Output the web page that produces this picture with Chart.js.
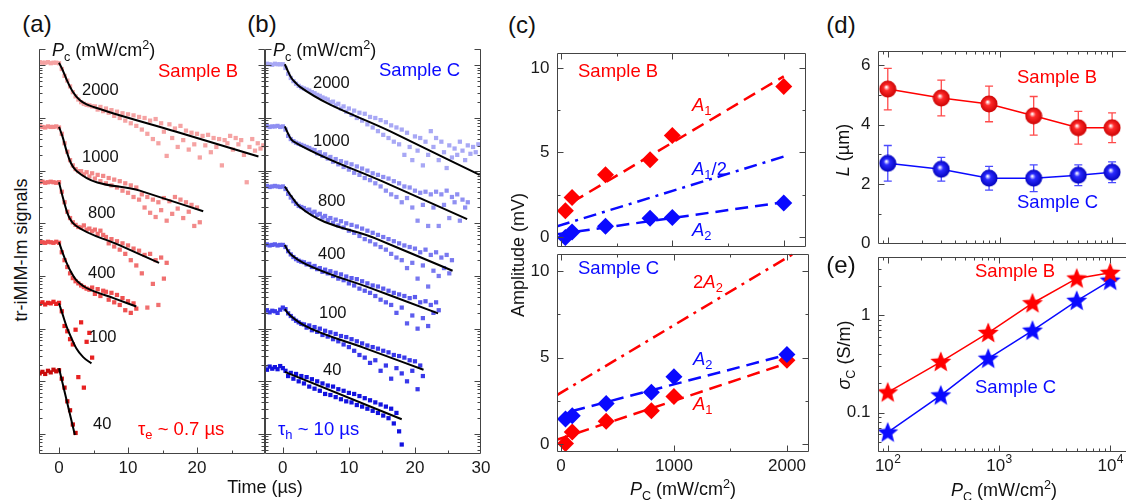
<!DOCTYPE html>
<html>
<head>
<meta charset="utf-8">
<script src="https://cdn.jsdelivr.net/npm/chart.js@4.4.0/dist/chart.umd.min.js"></script>
<style>
  body { margin: 0; background: #fff; overflow: hidden; }
  #fig { position: relative; width: 1126px; height: 500px; overflow: hidden; font-family: "Liberation Sans", Arial, sans-serif; color: #111; }
  #fig canvas { position: absolute; }
  .lbl { position: absolute; white-space: nowrap; line-height: 1; }
  .lbl sub, .lbl sup { font-size: 70%; line-height: 0; }
</style>
</head>
<body>
<div id="fig"></div>
<script>
// ---- panels (a),(b): time traces, values are log10(signal)
const timeGrid = [-2.8,-2.4,-2,-1.6,-1.2,-0.8,-0.4,0,0.4,0.8,1.2,1.6,2,2.4,2.8,3.2,3.6,4,4.4,4.8,5.2,5.6,6,6.4,6.8,7.2,7.6,8,8.4,8.8,9.2,9.6,10,10.4,10.8,11.2,11.6,12,12.4,12.8,13.2,13.6,14,14.4,14.8,15.2,15.6,16,16.4,16.8,17.2,17.6,18,18.4,18.8,19.2,19.6,20,20.4,20.8,21.2,21.6,22,22.4,22.8,23.2,23.6,24,24.4,24.8,25.2,25.6,26,26.4,26.8,27.2,27.6,28,28.4,28.8,29.2,29.6];

const traceB2000 = [7.06,7.05,7.05,7.06,7.04,7.05,7.05,7.04,6.93,6.80,6.71,6.60,6.49,6.41,6.35,6.30,6.27,6.25,6.24,6.22,6.22,6.16,6.21,6.13,6.18,6.10,6.15,6.04,6.12,6.00,6.09,5.95,6.07,5.90,6.05,5.85,6.02,5.78,6.00,5.70,5.95,5.60,5.98,5.52,5.90,5.74,5.28,5.88,5.62,5.80,5.45,5.85,5.58,5.76,5.40,5.72,5.50,5.70,5.25,5.66,5.48,5.68,5.35,5.62,5.45,5.60,5.10,5.58,5.52,5.66,5.40,5.62,5.50,5.58,5.30,4.78,5.45,5.60,5.38,5.52,5.42,5.48];
const traceB1000 = [5.84,5.83,5.82,5.84,5.83,5.83,5.84,5.82,5.70,5.52,5.36,5.20,5.10,5.03,4.99,4.99,4.93,4.97,4.89,4.95,4.85,4.92,4.80,4.90,4.76,4.86,4.72,4.83,4.68,4.80,4.62,4.76,4.58,4.72,4.50,4.68,4.45,4.55,4.30,4.50,4.20,4.45,4.12,4.40,4.25,4.48,4.05,4.42,4.18,4.50,4.28,4.45,4.10,4.40,4.22,4.35,3.95,4.30,4.02];
const traceB800 = [4.78,4.79,4.77,4.78,4.79,4.78,4.77,4.78,4.60,4.40,4.22,4.10,4.02,3.97,3.93,3.92,3.96,3.88,3.90,3.85,3.88,3.80,3.86,3.78,3.74,3.62,3.70,3.56,3.66,3.50,3.62,3.42,3.58,3.30,3.52,3.20,3.48,3.05,3.40,2.40,3.42,2.85,3.30,2.45,3.35,2.95,3.25];
const traceB400 = [3.65,3.64,3.63,3.65,3.64,3.63,3.65,3.63,3.45,3.30,3.17,3.05,2.96,2.90,2.86,2.82,2.79,2.76,2.74,2.78,2.66,2.75,2.62,2.72,2.70,2.55,2.68,2.50,2.64,2.45,2.58,2.35,2.52,2.30,2.48,2.38];
const traceB100 = [2.47,2.50,2.46,2.49,2.48,2.51,2.47,2.49,2.33,2.05,1.95,1.80,1.70,1.98,1.08,2.12,0.88,1.75,1.92,1.45];
const traceB40 = [1.15,1.18,1.14,1.20,1.17,1.22,1.19,1.21,1.05,0.88,0.62,0.45,0.18,0.02];

const traceC2000 = [7.02,7.03,7.02,7.01,7.03,7.02,7.02,7.02,6.95,6.84,6.76,6.70,6.65,6.61,6.58,6.56,6.54,6.52,6.49,6.47,6.44,6.42,6.39,6.37,6.35,6.30,6.31,6.24,6.27,6.18,6.22,6.12,6.18,6.06,6.14,6.00,6.10,5.95,6.08,5.88,6.02,5.82,6.00,5.75,5.96,5.68,5.92,5.62,5.86,5.55,5.82,5.50,5.78,5.30,5.72,5.45,5.20,5.65,5.38,5.62,5.10,5.55,5.30,5.75,5.45,5.62,5.20,5.55,5.35,5.05,5.48,5.25,5.42,5.30,5.55,5.38,5.20,5.48,5.32,5.45,5.35,5.50];
const traceC1000 = [5.84,5.85,5.83,5.84,5.84,5.85,5.83,5.84,5.78,5.66,5.60,5.56,5.53,5.51,5.49,5.47,5.45,5.43,5.40,5.39,5.33,5.35,5.28,5.31,5.23,5.26,5.17,5.22,5.12,5.18,5.07,5.15,5.02,5.12,4.96,5.08,4.92,5.04,4.86,5.00,4.82,4.95,4.76,4.92,4.70,4.88,4.62,4.85,4.55,4.80,4.50,4.76,4.40,4.70,4.48,4.68,4.30,4.62,4.05,4.58,4.35,4.60,3.95,4.55,4.30,4.60,3.95,4.55,4.35,4.62,4.10,4.50,4.40,4.55,4.05,4.45,4.30,4.40];
const traceC800 = [4.70,4.71,4.69,4.70,4.71,4.70,4.69,4.70,4.65,4.56,4.49,4.42,4.37,4.33,4.31,4.29,4.25,4.26,4.20,4.22,4.16,4.18,4.11,4.14,4.06,4.10,4.01,4.07,3.96,4.04,3.92,4.00,3.86,3.97,3.82,3.94,3.76,3.90,3.70,3.86,3.66,3.82,3.60,3.78,3.55,3.74,3.50,3.70,3.42,3.66,3.35,3.62,3.30,3.58,3.15,3.55,3.25,3.52,2.95,3.45,3.20,3.50,2.80,3.40,3.10,3.45,3.00,3.35,3.15,3.40,3.05,3.30];
const traceC400 = [3.59,3.60,3.58,3.59,3.60,3.58,3.59,3.59,3.55,3.47,3.41,3.36,3.32,3.29,3.27,3.26,3.22,3.23,3.17,3.19,3.13,3.15,3.08,3.12,3.05,3.09,3.00,3.06,2.95,3.03,2.92,2.99,2.86,2.96,2.82,2.94,2.76,2.90,2.72,2.86,2.68,2.82,2.62,2.80,2.55,2.76,2.50,2.72,2.45,2.68,2.30,2.65,2.40,2.62,2.10,2.58,2.25,2.60,2.00,2.50,2.20,2.52,2.05,2.45,2.30,2.50,2.35];
const traceC100 = [2.32,2.35,2.31,2.34,2.33,2.30,2.36,2.40,2.37,2.29,2.24,2.19,2.15,2.12,2.09,2.08,2.02,2.06,1.97,2.03,1.94,2.00,1.88,1.96,1.85,1.93,1.80,1.90,1.76,1.86,1.70,1.84,1.65,1.80,1.58,1.76,1.50,1.72,1.45,1.68,1.35,1.65,1.40,1.62,1.20,1.58,1.30,1.55,1.05,1.50,1.25,1.48,1.15,1.45,1.00,1.40,1.20,1.38,0.85,1.30,1.10];
const traceC40 = [1.26,1.22,1.28,1.24,1.27,1.23,1.29,1.25,1.20,1.10,1.16,1.05,1.14,1.00,1.10,0.96,1.08,0.90,1.04,0.86,1.00,0.82,0.96,0.76,0.92,0.74,0.90,0.70,0.85,0.66,0.82,0.62,0.78,0.60,0.76,0.55,0.72,0.52,0.68,0.48,0.64,0.44,0.60,0.40,0.56,0.35,0.52,0.30,0.48,0.20,0.40,0.05,-0.20];

// black fit curves, [time, log10 signal]
const fitB2000 = [[0,7.05],[0.5,6.92],[1.1,6.73],[2,6.50],[3,6.34],[4,6.26],[5,6.21],[17,5.74],[28.9,5.27]];
const fitB1000 = [[0,5.83],[0.5,5.65],[1.1,5.37],[1.7,5.15],[2.5,5.00],[11.7,4.62],[20.9,4.23]];
const fitB800 = [[0,4.78],[0.5,4.52],[1.2,4.20],[1.8,4.04],[2.5,3.95],[8.5,3.60],[14.5,3.25]];
const fitB400 = [[0,3.64],[0.5,3.45],[1.1,3.25],[1.8,3.06],[2.5,2.92],[3.5,2.81],[4.5,2.74],[7.9,2.58],[11.2,2.42]];
const fitB100 = [[0,2.48],[0.5,2.28],[1.1,2.04],[1.8,1.82],[2.5,1.63],[3.5,1.46],[4.7,1.34]];
const fitB40 = [[0,1.25],[2.3,-0.02]];
const fitC2000 = [[0.3,7.02],[0.8,6.88],[1.3,6.76],[2,6.66],[2.6,6.59],[16.2,5.75],[29.8,4.92]];
const fitC1000 = [[0.3,5.84],[0.8,5.70],[1.3,5.59],[2.1,5.52],[15,4.80],[27.9,4.08]];
const fitC800 = [[0.3,4.70],[0.8,4.60],[1.3,4.51],[2.5,4.32],[14.1,3.71],[25.7,3.10]];
const fitC400 = [[0.3,3.59],[0.8,3.47],[1.5,3.38],[3.1,3.25],[13.3,2.77],[23.5,2.29]];
const fitC100 = [[0.3,2.37],[0.8,2.29],[1.3,2.23],[3.1,2.07],[12.2,1.64],[21.3,1.22]];
const fitC40 = [[0.3,1.18],[18,0.28]];

const colorsB = ["#f5a3a3", "#f28a8a", "#f07070", "#ee5050", "#e82222", "#c80a0a"];
const colorsC = ["#a8a8f5", "#9090f2", "#7878f0", "#5c5cee", "#3838ea", "#1212e0"];

// ---- panel (c): amplitudes vs P_C
const pcAmp = [40, 100, 400, 800, 1000, 2000];
const ampB_A1 = [1.54, 2.33, 3.67, 4.57, 6.0, 8.9];
const ampB_A2 = [-0.04, 0.29, 0.63, 1.1, 1.14, 2.0];
const ampC_A2 = [1.46, 1.65, 2.35, 3.0, 3.9, 5.19];
const ampC_A1 = [0.04, 0.7, 1.32, 1.93, 2.75, 4.85];
const lineB_A1 = [[100, 2.05], [2000, 9.5]];
const lineB_A1half = [[-35, 0.62], [2000, 4.75]];
const lineB_A2 = [[-35, 0.15], [2000, 2.05]];
const lineC_2A2 = [[-35, 2.84], [2195, 11.54]];
const lineC_A2 = [[100, 1.92], [2000, 5.17]];
const lineC_A1 = [[-30, 0.27], [2000, 4.68]];

// ---- panels (d),(e)
const pcLog = [100, 300, 800, 2000, 5000, 10000];
const lenB = [5.2, 4.9, 4.7, 4.3, 3.9, 3.9];
const lenBerr = [0.7, 0.6, 0.6, 0.65, 0.55, 0.5];
const lenC = [2.7, 2.5, 2.2, 2.2, 2.3, 2.4];
const lenCerr = [0.6, 0.4, 0.4, 0.45, 0.35, 0.35];
const sigB = [0.161, 0.332, 0.659, 1.33, 2.39, 2.73];
const sigC = [0.0624, 0.150, 0.358, 0.695, 1.41, 2.27];

// tick marks / labels
const timeMajor = [0, 10, 20, 30];
const timeMinor = [5, 15, 25];
const decadeTicks = [1e0, 1e1, 1e2, 1e3, 1e4, 1e5, 1e6, 1e7];
const ampTicks = [0, 5, 10];
const ampMinor = [2.5, 7.5];
const pcTicks = [0, 1000, 2000];
const pcMinor = [500, 1500];
const lenTicks = [0, 2, 4, 6];
const lenMinor = [1, 3, 5];
const pcLogTicks = [100, 1000, 10000];
const pcLogLabels = ["10^2", "10^3", "10^4"];
const sigTicks = [0.1, 1];
const sigLabels = ["0.1", "1"];

const fig = document.getElementById("fig");
const RED = "#ff0000", BLUE = "#0a0aff";

function logMinor(lo, hi) {
  const out = [];
  for (let e = Math.floor(Math.log10(lo)); e <= Math.ceil(Math.log10(hi)); e++) {
    for (let k = 2; k <= 9; k++) {
      const v = k * Math.pow(10, e);
      if (v > lo && v < hi) out.push(v);
    }
  }
  return out;
}

function tickText(ctx, txt, x, y, align) {
  const [base, sup] = txt.split("^");
  ctx.font = '17px "Liberation Sans", Arial';
  const wb = ctx.measureText(base).width;
  let ws = 0;
  if (sup) {
    ctx.font = '12px "Liberation Sans", Arial';
    ws = ctx.measureText(sup).width;
  }
  const x0 = align === "center" ? x - (wb + ws) / 2 : x - wb - ws;
  ctx.textAlign = "left";
  ctx.textBaseline = "middle";
  ctx.font = '17px "Liberation Sans", Arial';
  ctx.fillText(base, x0, y);
  if (sup) {
    ctx.font = '12px "Liberation Sans", Arial';
    ctx.fillText(sup, x0 + wb + 0.5, y - 7);
  }
}

function makeFrame(o) {
  return {
    id: "frame",
    afterDraw(chart) {
      const ctx = chart.ctx, a = chart.chartArea;
      const sx = chart.scales.x, sy = chart.scales.y;
      const L = Math.round(a.left) + 0.5, R = Math.round(a.right) - 0.5;
      const T = Math.round(a.top) + 0.5, B = Math.round(a.bottom) - 0.5;
      const openTop = o.openTop;
      ctx.save();
      ctx.strokeStyle = "#444";
      ctx.lineWidth = 1;
      ctx.beginPath();
      if (openTop) {
        ctx.moveTo(L, T); ctx.lineTo(L, B); ctx.lineTo(R, B); ctx.lineTo(R, T);
        ctx.moveTo(L, T); ctx.lineTo(L + 6, T);
        ctx.moveTo(R, T); ctx.lineTo(R - 6, T);
      } else {
        ctx.rect(L, T, R - L, B - T);
      }
      const xt = (vals, len) => (vals || []).forEach(v => {
        const p = Math.round(sx.getPixelForValue(v)) + 0.5;
        if (p < L || p > R) return;
        ctx.moveTo(p, B); ctx.lineTo(p, B - len);
        if (!openTop) { ctx.moveTo(p, T); ctx.lineTo(p, T + len); }
      });
      const yt = (vals, len) => (vals || []).forEach(v => {
        const p = Math.round(sy.getPixelForValue(v)) + 0.5;
        if (p < T || p > B) return;
        ctx.moveTo(L, p); ctx.lineTo(L + len, p);
        ctx.moveTo(R, p); ctx.lineTo(R - len, p);
      });
      xt(o.xMajor, 6); xt(o.xMinor, 3);
      yt(o.yMajor, 6); yt(o.yMinor, 3);
      ctx.stroke();
      ctx.fillStyle = "#1a1a1a";
      (o.xLabels || []).forEach((s, i) => tickText(ctx, s, sx.getPixelForValue(o.xMajor[i]), B + 15, "center"));
      (o.yLabels || []).forEach((s, i) => tickText(ctx, s, L - 8, sy.getPixelForValue(o.yMajor[i]), "right"));
      ctx.restore();
    }
  };
}

const errorBars = {
  id: "errbars",
  beforeDatasetsDraw(chart) {
    const ctx = chart.ctx, sy = chart.scales.y;
    chart.data.datasets.forEach((ds, i) => {
      if (!ds.errors) return;
      const meta = chart.getDatasetMeta(i);
      ctx.save();
      ctx.strokeStyle = ds.errorColor;
      ctx.lineWidth = 1.3;
      meta.data.forEach((pt, j) => {
        const v = ds.data[j].y, e = ds.errors[j];
        const y1 = sy.getPixelForValue(v + e), y2 = sy.getPixelForValue(v - e);
        ctx.beginPath();
        ctx.moveTo(pt.x, y1); ctx.lineTo(pt.x, y2);
        ctx.moveTo(pt.x - 4, y1); ctx.lineTo(pt.x + 4, y1);
        ctx.moveTo(pt.x - 4, y2); ctx.lineTo(pt.x + 4, y2);
        ctx.stroke();
      });
      ctx.restore();
    });
  }
};

function addPanel(box, pad, xScale, yScale, datasets, frame) {
  const cv = document.createElement("canvas");
  const w = box[2] - box[0] + pad[0] + pad[2];
  const h = box[3] - box[1] + pad[1] + pad[3];
  cv.width = w;
  cv.height = h;
  cv.style.left = (box[0] - pad[0]) + "px";
  cv.style.top = (box[1] - pad[1]) + "px";
  fig.appendChild(cv);
  return new Chart(cv, {
    type: "scatter",
    data: { datasets },
    options: {
      responsive: false,
      animation: false,
      devicePixelRatio: 1,
      events: [],
      layout: { padding: { left: pad[0], top: pad[1], right: pad[2], bottom: pad[3] } },
      scales: {
        x: Object.assign({ display: false, bounds: "data" }, xScale),
        y: Object.assign({ display: false, bounds: "data" }, yScale)
      },
      plugins: { legend: { display: false }, tooltip: { enabled: false } }
    },
    plugins: [makeFrame(frame), errorBars]
  });
}

function traceSet(vals, color) {
  return {
    data: vals.map((v, i) => ({ x: timeGrid[i], y: Math.pow(10, v) })),
    pointStyle: "rect", pointRadius: 3, borderWidth: 0,
    backgroundColor: color, showLine: false, order: 1
  };
}
function fitSet(pts) {
  return {
    data: pts.map(p => ({ x: p[0], y: Math.pow(10, p[1]) })),
    showLine: true, pointRadius: 0, borderColor: "#000", borderWidth: 2,
    cubicInterpolationMode: "monotone", order: 0
  };
}
function lineSet(pts, color, dash) {
  return {
    data: pts.map(p => ({ x: p[0], y: p[1] })),
    showLine: true, pointRadius: 0, borderColor: color, borderWidth: 2.5,
    borderDash: dash, order: 1
  };
}
function diamondSet(ys, color) {
  return {
    data: ys.map((y, i) => ({ x: pcAmp[i], y })),
    pointStyle: "rectRot", pointRadius: 8.5, borderWidth: 0,
    backgroundColor: color, order: 0
  };
}

function sphereImg(light, mid, dark) {
  const c = document.createElement("canvas");
  c.width = c.height = 18;
  const g = c.getContext("2d");
  const gr = g.createRadialGradient(7.5, 7, 0.5, 9, 9, 9);
  gr.addColorStop(0, light);
  gr.addColorStop(0.3, mid);
  gr.addColorStop(1, dark);
  g.fillStyle = gr;
  g.beginPath();
  g.arc(9, 9, 8.5, 0, 2 * Math.PI);
  g.fill();
  return c;
}
function starImg(color) {
  const c = document.createElement("canvas");
  c.width = c.height = 24;
  const g = c.getContext("2d");
  g.beginPath();
  for (let k = 0; k < 10; k++) {
    const r = k % 2 ? 4.8 : 11;
    const ang = -Math.PI / 2 + k * Math.PI / 5;
    g.lineTo(12 + r * Math.cos(ang), 12.5 + r * Math.sin(ang));
  }
  g.closePath();
  g.fillStyle = color;
  g.fill();
  return c;
}

// (a) sample B, (b) sample C
const tracesB = [traceB2000, traceB1000, traceB800, traceB400, traceB100, traceB40];
const fitsB = [fitB2000, fitB1000, fitB800, fitB400, fitB100, fitB40];
const tracesC = [traceC2000, traceC1000, traceC800, traceC400, traceC100, traceC40];
const fitsC = [fitC2000, fitC1000, fitC800, fitC400, fitC100, fitC40];
const sigYmin = Math.pow(10, -0.38), sigYmax = Math.pow(10, 7.31);
const traceYMinor = logMinor(sigYmin, sigYmax);

addPanel([39, 49, 265, 454], [5, 5, 5, 30],
  { type: "linear", min: -2.9, max: 29.85 },
  { type: "logarithmic", min: sigYmin, max: sigYmax },
  fitsB.map(fitSet).concat(tracesB.map((t, i) => traceSet(t, colorsB[i]))),
  { openTop: true, xMajor: [0, 10, 20], xMinor: timeMinor, xLabels: ["0", "10", "20"], yMajor: decadeTicks, yMinor: traceYMinor });

addPanel([265, 49, 481, 454], [5, 5, 15, 30],
  { type: "linear", min: -2.7, max: 30 },
  { type: "logarithmic", min: sigYmin, max: sigYmax },
  fitsC.map(fitSet).concat(tracesC.map((t, i) => traceSet(t, colorsC[i]))),
  { openTop: true, xMajor: timeMajor, xMinor: timeMinor, xLabels: timeMajor.map(String), yMajor: decadeTicks, yMinor: traceYMinor });

// (c)
const ampX = { type: "linear", min: -35, max: 2195 };
addPanel([557, 49, 809, 250], [45, 5, 5, 5], ampX,
  { type: "linear", min: -0.57, max: 10.91 },
  [
    diamondSet(ampB_A1, RED), diamondSet(ampB_A2, BLUE),
    lineSet(lineB_A1, RED, [13, 7]),
    lineSet(lineB_A1half, BLUE, [13, 6, 3, 6]),
    lineSet(lineB_A2, BLUE, [13, 7])
  ],
  { xMajor: pcTicks, xMinor: pcMinor, yMajor: ampTicks, yMinor: ampMinor, yLabels: ampTicks.map(String) });

addPanel([557, 250, 809, 452], [45, 5, 20, 30], ampX,
  { type: "linear", min: -0.45, max: 11.02 },
  [
    diamondSet(ampC_A2, BLUE), diamondSet(ampC_A1, RED),
    lineSet(lineC_2A2, RED, [13, 6, 3, 6]),
    lineSet(lineC_A2, BLUE, [13, 7]),
    lineSet(lineC_A1, RED, [13, 7])
  ],
  { xMajor: pcTicks, xMinor: pcMinor, xLabels: pcTicks.map(String), yMajor: ampTicks, yMinor: ampMinor, yLabels: ampTicks.map(String) });

// (d) and (e)
const logX = { type: "logarithmic", min: 81.8, max: 15850 };
const logXMinor = logMinor(81.8, 15850);
const sphereB = sphereImg("#fff4f4", "#ff2a2a", "#c80000");
const sphereC = sphereImg("#f4f4ff", "#2a2aff", "#0000b8");
addPanel([878, 45, 1140, 249], [45, 5, 5, 5], logX,
  { type: "linear", min: 0, max: 6.5 },
  [
    { data: lenB.map((y, i) => ({ x: pcLog[i], y })), errors: lenBerr, errorColor: "#ff4a4a",
      showLine: true, borderColor: RED, borderWidth: 1.5, pointStyle: sphereB, pointRadius: 9 },
    { data: lenC.map((y, i) => ({ x: pcLog[i], y })), errors: lenCerr, errorColor: "#4a4aff",
      showLine: true, borderColor: BLUE, borderWidth: 1.5, pointStyle: sphereC, pointRadius: 9 }
  ],
  { xMajor: pcLogTicks, xMinor: logXMinor, yMajor: lenTicks, yMinor: lenMinor, yLabels: lenTicks.map(String) });

const sigMin = 0.0393, sigMax = 4.02;
addPanel([878, 249, 1140, 452], [45, 5, 5, 30], logX,
  { type: "logarithmic", min: sigMin, max: sigMax },
  [
    { data: sigB.map((y, i) => ({ x: pcLog[i], y })),
      showLine: true, borderColor: RED, borderWidth: 1.5, pointStyle: starImg(RED), pointRadius: 11 },
    { data: sigC.map((y, i) => ({ x: pcLog[i], y })),
      showLine: true, borderColor: BLUE, borderWidth: 1.5, pointStyle: starImg(BLUE), pointRadius: 11 }
  ],
  { xMajor: pcLogTicks, xMinor: logXMinor, xLabels: pcLogLabels, yMajor: sigTicks, yMinor: logMinor(sigMin, sigMax), yLabels: sigLabels });

// text annotations: [html, x, y, mode, size, color]
const pcTitle = "<i>P</i><sub>c</sub> (mW/cm<sup>2</sup>)";
const pcTitleC = "<i>P</i><sub>C</sub> (mW/cm<sup>2</sup>)";
const notes = [
  ["(a)", 37, 24, "c", 24], ["(b)", 262, 24, "c", 24], ["(c)", 522, 25, "c", 24],
  ["(d)", 841, 25, "c", 24], ["(e)", 841, 265, "c", 24],
  [pcTitle, 52, 50, "l", 18], ["Sample B", 158, 71, "l", 18.5, RED],
  ["2000", 82, 89, "l", 16.5], ["1000", 82, 156, "l", 16.5], ["800", 88, 212, "l", 16.5],
  ["400", 88, 272, "l", 16.5], ["100", 89, 336, "l", 16.5], ["40", 93, 423, "l", 16.5],
  ["τ<sub>e</sub> ~ 0.7 µs", 138, 429, "l", 18.5, RED],
  [pcTitle, 273, 50, "l", 18], ["Sample C", 379, 70, "l", 18.5, BLUE],
  ["2000", 313, 82, "l", 16.5], ["1000", 313, 140, "l", 16.5], ["800", 318, 200, "l", 16.5],
  ["400", 318, 253, "l", 16.5], ["100", 319, 312, "l", 16.5], ["40", 323, 369, "l", 16.5],
  ["τ<sub>h</sub> ~ 10 µs", 278, 429, "l", 18.5, BLUE],
  ["tr-iMIM-Im signals", 21, 250, "v", 18], ["Time (µs)", 265, 487, "c", 18],
  ["Sample B", 578, 71, "l", 18.5, RED],
  ["<i>A</i><sub>1</sub>", 692, 105, "l", 18.5, RED],
  ["<i>A</i><sub>1</sub>/2", 692, 169, "l", 18.5, BLUE],
  ["<i>A</i><sub>2</sub>", 692, 230, "l", 18.5, BLUE],
  ["Sample C", 578, 268, "l", 18.5, BLUE],
  ["2<i>A</i><sub>2</sub>", 693, 282, "l", 18.5, RED],
  ["<i>A</i><sub>2</sub>", 693, 359, "l", 18.5, BLUE],
  ["<i>A</i><sub>1</sub>", 693, 404, "l", 18.5, RED],
  ["Amplitude (mV)", 518, 255, "v", 18], [pcTitleC, 683, 489, "c", 18],
  ["Sample B", 1017, 77, "l", 18.5, RED], ["Sample C", 1017, 202, "l", 18.5, BLUE],
  ["<i>L</i> (µm)", 843, 150, "v", 18],
  ["Sample B", 975, 271, "l", 18.5, RED], ["Sample C", 975, 387, "l", 18.5, BLUE],
  ["<i>σ</i><sub>C</sub> (S/m)", 844, 355, "v", 18], [pcTitleC, 1004, 490, "c", 18]
];

notes.forEach(([html, x, y, mode, size, color]) => {
  const d = document.createElement("div");
  d.className = "lbl";
  d.innerHTML = html;
  d.style.left = x + "px";
  d.style.top = y + "px";
  d.style.fontSize = size + "px";
  if (color) d.style.color = color;
  if (mode === "l") d.style.transform = "translate(0,-50%)";
  else if (mode === "c") d.style.transform = "translate(-50%,-50%)";
  else d.style.transform = "translate(-50%,-50%) rotate(-90deg)";
  fig.appendChild(d);
});
</script>
</body>
</html>
